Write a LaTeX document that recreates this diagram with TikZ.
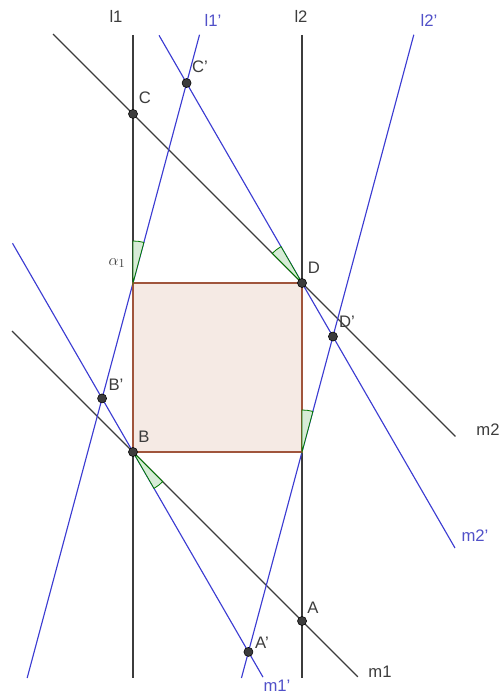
\documentclass[tikz,border=0pt]{standalone}
\usepackage{fontspec}
\setmainfont{Liberation Sans}
\usetikzlibrary{calc}
\definecolor{lineblack}{RGB}{60,60,60}
\definecolor{lineblue}{RGB}{60,60,210}
\definecolor{labelblue}{RGB}{80,80,200}
\definecolor{sqborder}{RGB}{160,85,60}
\definecolor{sqfill}{RGB}{245,234,228}
\definecolor{angfill}{RGB}{215,236,215}
\definecolor{angdraw}{RGB}{0,120,0}
\definecolor{ptfill}{RGB}{60,60,60}
\tikzset{
  blackline/.style={draw=lineblack,line width=0.85pt},
  blueline/.style={draw=lineblue,line width=0.85pt},
  anglemark/.style={fill=angfill,draw=angdraw,line width=0.6pt},
  pt/.style={circle,fill=ptfill,draw=black,line width=0.4pt,inner sep=0pt,minimum size=6.8pt},
  lbl/.style={font=\fontsize{12.5}{14}\selectfont,text=lineblack,inner sep=0pt},
  bluelbl/.style={font=\fontsize{12.5}{14}\selectfont,text=labelblue,inner sep=0pt}
}
\begin{document}
\begin{tikzpicture}[x=0.75pt,y=0.75pt]
\useasboundingbox (0,0) rectangle (501,695);
% square corners (y measured upward: y = 695 - screen y)
\coordinate (P) at (133,412);
\coordinate (D0) at (302,412);
\coordinate (B0) at (133,243);
\coordinate (Q) at (302,243);
% line end points
\coordinate (l1t) at (133,660);
\coordinate (l1b) at (133,17);
\coordinate (l2t) at (302,660);
\coordinate (l2b) at (302,17);
\coordinate (m2a) at ($(D0)+(135:352)$);
\coordinate (m2b) at ($(D0)+(-45:217)$);
\coordinate (m1a) at ($(B0)+(135:171)$);
\coordinate (m1b) at ($(B0)+(-45:318)$);
\coordinate (l1pa) at ($(P)+(75:257)$);
\coordinate (l1pb) at ($(P)+(255:409)$);
\coordinate (l2pa) at ($(Q)+(75:432)$);
\coordinate (l2pb) at ($(Q)+(255:234)$);
\coordinate (m2pa) at ($(D0)+(120:286)$);
\coordinate (m2pb) at ($(D0)+(-60:306)$);
\coordinate (m1pa) at ($(B0)+(120:241)$);
\coordinate (m1pb) at ($(B0)+(-60:260)$);
% lines
\draw[blackline] (l1t) -- (l1b);
\draw[blackline] (l2t) -- (l2b);
\draw[blackline] (m2a) -- (m2b);
\draw[blackline] (m1a) -- (m1b);
\draw[blueline] (l1pa) -- (l1pb);
\draw[blueline] (l2pa) -- (l2pb);
\draw[blueline] (m2pa) -- (m2pb);
\draw[blueline] (m1pa) -- (m1pb);
% square
\draw[fill=sqfill,draw=sqborder,line width=0.85pt] (P) -- (D0) -- (Q) -- (B0) -- cycle;
% angle markers
\draw[anglemark] (P) -- ++(90:42) arc[start angle=90,end angle=75,radius=42] -- cycle;
\draw[anglemark] (Q) -- ++(90:42) arc[start angle=90,end angle=75,radius=42] -- cycle;
\draw[anglemark] (D0) -- ++(135:42) arc[start angle=135,end angle=120,radius=42] -- cycle;
\draw[anglemark] (B0) -- ++(-45:42) arc[start angle=-45,end angle=-60,radius=42] -- cycle;
% points
\node[pt] (C) at (intersection of l1t--l1b and m2a--m2b) {};
\node[pt] (Cp) at (intersection of l1pa--l1pb and m2pa--m2pb) {};
\node[pt] (D) at (D0) {};
\node[pt] (Dp) at (intersection of l2pa--l2pb and m2pa--m2pb) {};
\node[pt] (B) at (B0) {};
\node[pt] (Bp) at (intersection of l1pa--l1pb and m1pa--m1pb) {};
\node[pt] (A) at (intersection of l2t--l2b and m1a--m1b) {};
\node[pt] (Ap) at (intersection of l2pa--l2pb and m1pa--m1pb) {};
% labels
\node[lbl] (tl1) at (116,679) {l1};
\node[lbl] (tl2) at (301,679) {l2};
\node[bluelbl] (tl1p) at (213,675) {l1'};
\node[bluelbl] (tl2p) at (429,675) {l2'};
\node[lbl] (tm1) at (380,23) {m1};
\node[lbl] (tm2) at (488,265) {m2};
\node[bluelbl] (tm1p) at (277,9) {m1'};
\node[bluelbl] (tm2p) at (475,159) {m2'};
\node[lbl] (tC) at (145,597) {C};
\node[lbl] (tCp) at (200,628) {C'};
\node[lbl] (tD) at (314,427) {D};
\node[lbl] (tDp) at (347,373) {D'};
\node[lbl] (tBp) at (116,310) {B'};
\node[lbl] (tB) at (144,258) {B};
\node[lbl] (tA) at (313,87) {A};
\node[lbl] (tAp) at (262,52) {A'};
\node[text=lineblack,inner sep=0pt,font=\fontsize{12.5}{14}\selectfont] (talpha) at (117,432) {$\alpha_1$};
\end{tikzpicture}
\end{document}
